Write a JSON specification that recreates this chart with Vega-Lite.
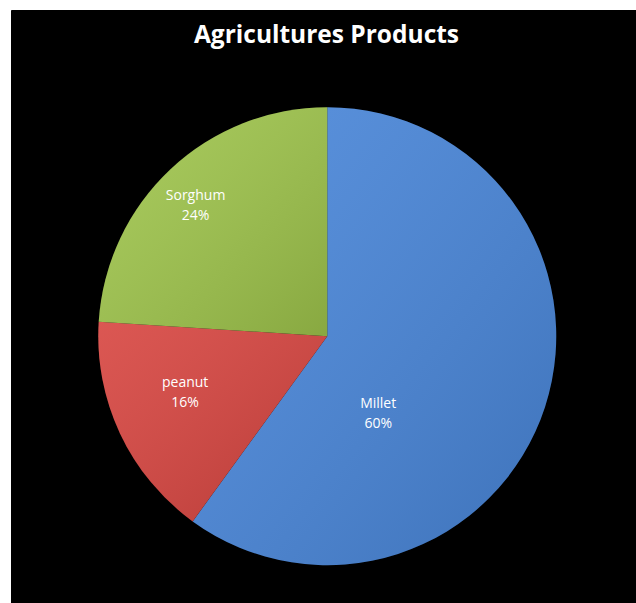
{
  "$schema": "https://vega.github.io/schema/vega-lite/v6.json",
  "autosize": {"type": "fit", "contains": "padding"},
  "width": 636,
  "height": 603,
  "padding": {"left": 11, "top": 10, "right": 0, "bottom": 0},
  "background": "white",
  "view": {"fill": "black", "stroke": "black", "cornerRadius": 0},
  "title": {
    "text": "Agricultures Products",
    "color": "white",
    "font": "Open Sans",
    "fontSize": 24.5,
    "fontWeight": "bold",
    "anchor": "middle",
    "offset": -38,
    "dx": 3
  },
  "data": {
    "values": [
      {"crop": "Millet", "share": 0.60},
      {"crop": "peanut", "share": 0.16},
      {"crop": "Sorghum", "share": 0.24}
    ]
  },
  "transform": [{"window": [{"op": "row_number", "as": "idx"}]}],
  "encoding": {
    "theta": {"field": "share", "type": "quantitative", "stack": true},
    "order": {"field": "idx", "type": "quantitative"},
    "color": {
      "field": "crop",
      "type": "nominal",
      "scale": {"domain": ["Millet", "peanut", "Sorghum"], "range": ["#4886da", "#d7443f", "#a0c64c"]},
      "legend": null
    }
  },
  "layer": [
    {
      "mark": {"type": "arc", "outerRadius": 229, "x": {"expr": "width*0.506"}, "y": {"expr": "height*0.55"}}
    },
    {
      "mark": {
        "type": "arc", "outerRadius": 229, "x": {"expr": "width*0.506"}, "y": {"expr": "height*0.55"},
        "fill": {"gradient": "linear", "x1": 0, "y1": 0, "x2": 1, "y2": 1,
          "stops": [{"offset": 0, "color": "rgba(255,255,255,0.10)"}, {"offset": 1, "color": "rgba(0,0,0,0.15)"}]}
      }
    },
    {
      "mark": {
        "type": "text", "x": {"expr": "width*0.506"}, "y": {"expr": "height*0.55"},
        "radius": {"expr": "datum.crop === 'Millet' ? 93 : datum.crop === 'peanut' ? 153 : 185"},
        "thetaOffset": {"expr": "datum.crop === 'Millet' ? 0.677 : datum.crop === 'peanut' ? 0.06 : -0.038"},
        "dy": -10, "fill": "white", "font": "Open Sans", "fontSize": 14
      },
      "encoding": {"text": {"field": "crop"}}
    },
    {
      "mark": {
        "type": "text", "x": {"expr": "width*0.506"}, "y": {"expr": "height*0.55"},
        "radius": {"expr": "datum.crop === 'Millet' ? 93 : datum.crop === 'peanut' ? 153 : 185"},
        "thetaOffset": {"expr": "datum.crop === 'Millet' ? 0.677 : datum.crop === 'peanut' ? 0.06 : -0.038"},
        "dy": 10, "fill": "white", "font": "Open Sans", "fontSize": 14
      },
      "encoding": {"text": {"field": "share", "type": "quantitative", "format": ".0%"}}
    }
  ]
}
